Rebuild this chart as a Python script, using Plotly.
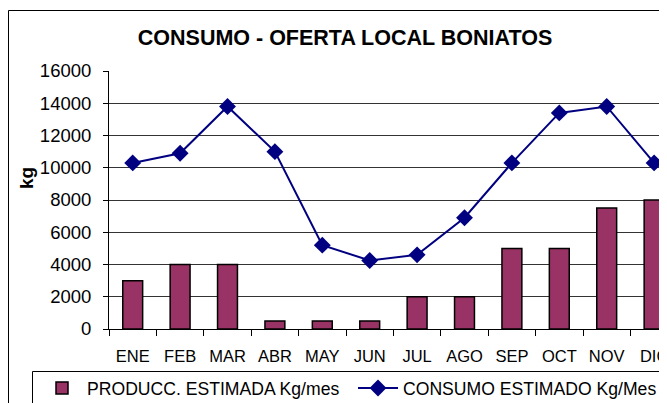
import plotly.graph_objects as go

months = ["ENE", "FEB", "MAR", "ABR", "MAY", "JUN", "JUL", "AGO", "SEP", "OCT", "NOV", "DIC"]
produccion = [3000, 4000, 4000, 500, 500, 500, 2000, 2000, 5000, 5000, 7500, 8000]
consumo = [10300, 10900, 13800, 11000, 5200, 4250, 4600, 6900, 10300, 13400, 13800, 10300]
y_ticks = [0, 2000, 4000, 6000, 8000, 10000, 12000, 14000, 16000]

OFF = 8  # page body margin
W, H = 667 - OFF, 403 - OFF
L = 109 - OFF
T = 71 - OFF
B = H - (329 - OFF)
pw = W - L
ph = H - T - B
cat_w = 47.4
x_hi = -0.5 + pw / cat_w

def px_x(p):  # window pixel -> paper x
    return (p - OFF - L) / pw

def px_y(p):  # window pixel -> paper y
    return (H - B - (p - OFF)) / ph

FONT = "Liberation Sans, Arial, sans-serif"

fig = go.Figure()
fig.add_trace(go.Bar(
    x=months, y=produccion, name="PRODUCC. ESTIMADA Kg/mes",
    marker=dict(color="#993366", line=dict(color="black", width=1.5)),
    width=0.42,
))
fig.add_trace(go.Scatter(
    x=months, y=consumo, name="CONSUMO ESTIMADO Kg/Mes",
    mode="lines+markers",
    line=dict(color="#000080", width=2),
    marker=dict(symbol="diamond", size=13, color="#000080"),
))

fig.update_layout(
    width=W, height=H,
    margin=dict(l=L, r=0, t=T, b=B, pad=0, autoexpand=False),
    paper_bgcolor="white", plot_bgcolor="white",
    font=dict(family=FONT, size=16, color="black"),
    title=dict(text="<b>CONSUMO - OFERTA LOCAL BONIATOS</b>",
               x=(345 - OFF) / W, xref="container", xanchor="center",
               y=1 - (37.5 - OFF) / H, yref="container", yanchor="middle",
               font=dict(family=FONT, size=21.5, color="black")),
    showlegend=True,
    legend=dict(orientation="h", x=px_x(37), y=px_y(370), xanchor="left", yanchor="top",
                xref="paper", yref="paper",
                font=dict(family=FONT, size=17.6, color="black"),
                itemwidth=40, entrywidth=261, entrywidthmode="pixels",
                bgcolor="rgba(0,0,0,0)", borderwidth=0, traceorder="normal"),
    bargap=0.58,
)
fig.update_xaxes(
    type="category", range=[-0.5, x_hi],
    showline=True, linecolor="black", linewidth=1,
    ticks="outside", tickson="boundaries", ticklen=6, tickcolor="black",
    showgrid=False, tickfont=dict(size=16.5), ticklabelstandoff=12,
)
fig.update_yaxes(
    range=[0, 16000], tickvals=y_ticks, ticktext=[str(v) for v in y_ticks],
    showline=True, linecolor="black", linewidth=1,
    ticks="outside", ticklen=5, tickcolor="black",
    showgrid=True, gridcolor="#333333", gridwidth=1,
    zeroline=False, tickfont=dict(size=18.5), ticklabelstandoff=8,
)

# y-axis title
fig.add_annotation(text="<b>kg</b>", xref="paper", yref="paper",
                   x=px_x(26), y=px_y(178), xanchor="center", yanchor="middle",
                   textangle=-90, showarrow=False,
                   font=dict(family=FONT, size=19, color="black"))

# chart area border (cropped on right and bottom)
fig.add_shape(type="rect", xref="paper", yref="paper",
              x0=px_x(8.5), x1=px_x(667 + 20), y0=px_y(403 + 20), y1=px_y(10.5),
              line=dict(color="black", width=1), fillcolor="rgba(0,0,0,0)", layer="below")
# legend border (cropped)
fig.add_shape(type="rect", xref="paper", yref="paper",
              x0=px_x(32.5), x1=px_x(667 + 20), y0=px_y(403 + 20), y1=px_y(371.5),
              line=dict(color="black", width=1), fillcolor="rgba(0,0,0,0)", layer="below")

fig.write_html("out.html")
